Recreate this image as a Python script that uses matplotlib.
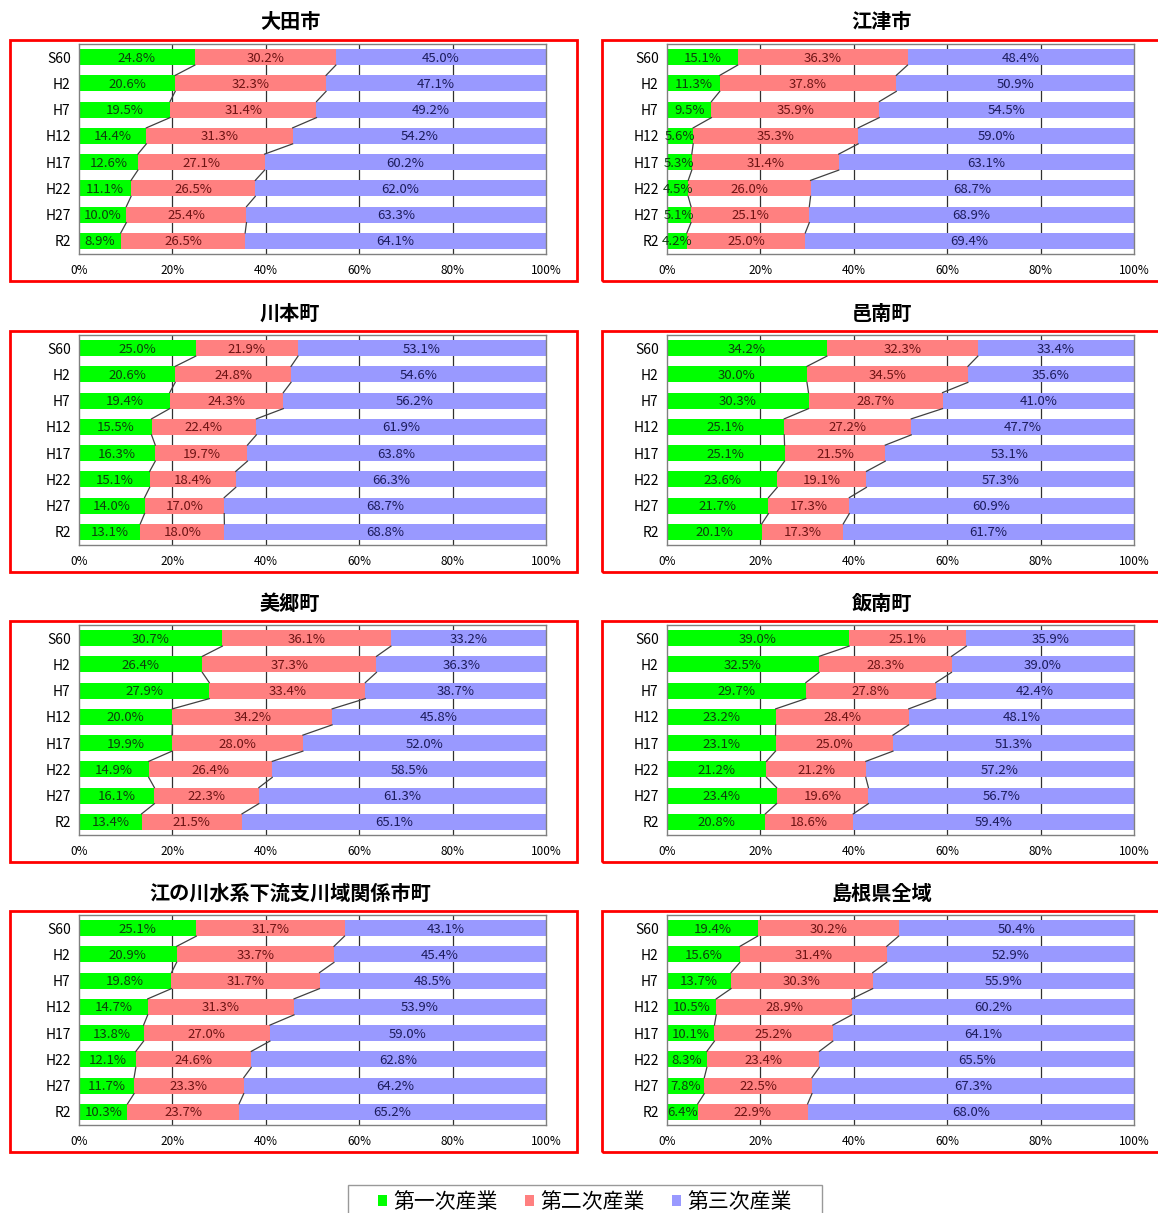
import numpy as np
import matplotlib.pyplot as plt
from matplotlib.patches import Rectangle, Patch

plt.rcParams['font.family'] = ['Noto Sans CJK JP', 'DejaVu Sans']

years = ['S60', 'H2', 'H7', 'H12', 'H17', 'H22', 'H27', 'R2']
sectors = ['第一次産業', '第二次産業', '第三次産業']
colors = ['#00ff00', '#ff8080', '#9999ff']
text_colors = ['#0d400d', '#6e1414', '#1c1c5c']
areas = ['大田市', '江津市', '川本町', '邑南町', '美郷町', '飯南町',
         '江の川水系下流支川域関係市町', '島根県全域']

# 就業者構成比 (%)  第一次 / 第二次 / 第三次
ota_1 = [24.8, 20.6, 19.5, 14.4, 12.6, 11.1, 10.0, 8.9]
ota_2 = [30.2, 32.3, 31.4, 31.3, 27.1, 26.5, 25.4, 26.5]
ota_3 = [45.0, 47.1, 49.2, 54.2, 60.2, 62.0, 63.3, 64.1]

gotsu_1 = [15.1, 11.3, 9.5, 5.6, 5.3, 4.5, 5.1, 4.2]
gotsu_2 = [36.3, 37.8, 35.9, 35.3, 31.4, 26.0, 25.1, 25.0]
gotsu_3 = [48.4, 50.9, 54.5, 59.0, 63.1, 68.7, 68.9, 69.4]

kawamoto_1 = [25.0, 20.6, 19.4, 15.5, 16.3, 15.1, 14.0, 13.1]
kawamoto_2 = [21.9, 24.8, 24.3, 22.4, 19.7, 18.4, 17.0, 18.0]
kawamoto_3 = [53.1, 54.6, 56.2, 61.9, 63.8, 66.3, 68.7, 68.8]

onan_1 = [34.2, 30.0, 30.3, 25.1, 25.1, 23.6, 21.7, 20.1]
onan_2 = [32.3, 34.5, 28.7, 27.2, 21.5, 19.1, 17.3, 17.3]
onan_3 = [33.4, 35.6, 41.0, 47.7, 53.1, 57.3, 60.9, 61.7]

misato_1 = [30.7, 26.4, 27.9, 20.0, 19.9, 14.9, 16.1, 13.4]
misato_2 = [36.1, 37.3, 33.4, 34.2, 28.0, 26.4, 22.3, 21.5]
misato_3 = [33.2, 36.3, 38.7, 45.8, 52.0, 58.5, 61.3, 65.1]

iinan_1 = [39.0, 32.5, 29.7, 23.2, 23.1, 21.2, 23.4, 20.8]
iinan_2 = [25.1, 28.3, 27.8, 28.4, 25.0, 21.2, 19.6, 18.6]
iinan_3 = [35.9, 39.0, 42.4, 48.1, 51.3, 57.2, 56.7, 59.4]

basin_1 = [25.1, 20.9, 19.8, 14.7, 13.8, 12.1, 11.7, 10.3]
basin_2 = [31.7, 33.7, 31.7, 31.3, 27.0, 24.6, 23.3, 23.7]
basin_3 = [43.1, 45.4, 48.5, 53.9, 59.0, 62.8, 64.2, 65.2]

shimane_1 = [19.4, 15.6, 13.7, 10.5, 10.1, 8.3, 7.8, 6.4]
shimane_2 = [30.2, 31.4, 30.3, 28.9, 25.2, 23.4, 22.5, 22.9]
shimane_3 = [50.4, 52.9, 55.9, 60.2, 64.1, 65.5, 67.3, 68.0]

panels = [(ota_1, ota_2, ota_3), (gotsu_1, gotsu_2, gotsu_3),
          (kawamoto_1, kawamoto_2, kawamoto_3), (onan_1, onan_2, onan_3),
          (misato_1, misato_2, misato_3), (iinan_1, iinan_2, iinan_3),
          (basin_1, basin_2, basin_3), (shimane_1, shimane_2, shimane_3)]

W, H = 1158, 1213
fig = plt.figure(figsize=(W / 100, H / 100), dpi=100)


def fig_rect(x, y, w, h):
    # pixel box (top-left origin) -> figure fraction
    return [x / W, 1 - (y + h) / H, w / W, h / H]


box_x = [10, 602]
box_w = [567, 562]
box_y = [40, 331, 621, 911]
box_h = 241
ax_x = [79, 667]
ax_w = 467
bar_h = 0.61

for k, (area, vals) in enumerate(zip(areas, panels)):
    r, c = divmod(k, 2)
    bx, by = box_x[c], box_y[r]
    fig.add_artist(Rectangle(fig_rect(bx, by, box_w[c], box_h)[:2],
                             box_w[c] / W, box_h / H, transform=fig.transFigure,
                             fill=False, edgecolor='#ff0000', lw=2))
    fig.text((bx + 280) / W, 1 - (by - 18) / H, area, ha='center', va='center',
             fontsize=14.5, fontweight='bold')

    ax = fig.add_axes(fig_rect(ax_x[c], by + 4, ax_w, 210))
    data = np.array(vals, dtype=float)
    share = data / data.sum(axis=0) * 100
    y = np.arange(len(years))
    left = np.zeros(len(years))
    for s in range(3):
        ax.barh(y, share[s], left=left, height=bar_h, color=colors[s],
                edgecolor='none', zorder=2)
        for i in range(len(years)):
            ax.text(left[i] + share[s][i] / 2, y[i] + 0.04, f'{data[s][i]:.1f}%',
                    ha='center', va='center', fontsize=9.5, color=text_colors[s],
                    zorder=4, clip_on=False)
        left = left + share[s]
        if s < 2:
            for i in range(len(years) - 1):
                ax.plot([left[i], left[i + 1]],
                        [y[i] + bar_h / 2, y[i + 1] - bar_h / 2],
                        color='#404040', lw=0.9, zorder=3)

    ax.vlines([20, 40, 60, 80], -0.5, 7.5, color='#303030', lw=0.9, zorder=1)
    ax.set_xlim(0, 100)
    ax.set_ylim(7.5, -0.5)
    ax.set_yticks(y)
    ax.set_yticklabels(years, fontsize=10)
    ax.set_xticks([0, 20, 40, 60, 80, 100])
    ax.set_xticklabels([f'{v}%' for v in [0, 20, 40, 60, 80, 100]], fontsize=8.5)
    ax.tick_params(length=0, pad=6)
    ax.tick_params(axis='x', pad=7)
    for sp in ax.spines.values():
        sp.set_color('#808080')
        sp.set_linewidth(1)

# legend box runs off the bottom edge, as in the source image
fig.add_artist(Rectangle(fig_rect(348, 1185, 474, 40)[:2], 474 / W, 40 / H,
                         transform=fig.transFigure, fill=False,
                         edgecolor='#999999', lw=1))
handles = [Patch(facecolor=col, edgecolor='none') for col in colors]
fig.legend(handles, sectors, loc='center',
           bbox_to_anchor=(585 / W, 1 - 1202 / H), ncol=3, fontsize=15,
           frameon=False, handlelength=0.45, handleheight=0.45,
           handletextpad=0.3, columnspacing=1.3, borderpad=0.1)

fig.savefig('out.png', dpi=100)
